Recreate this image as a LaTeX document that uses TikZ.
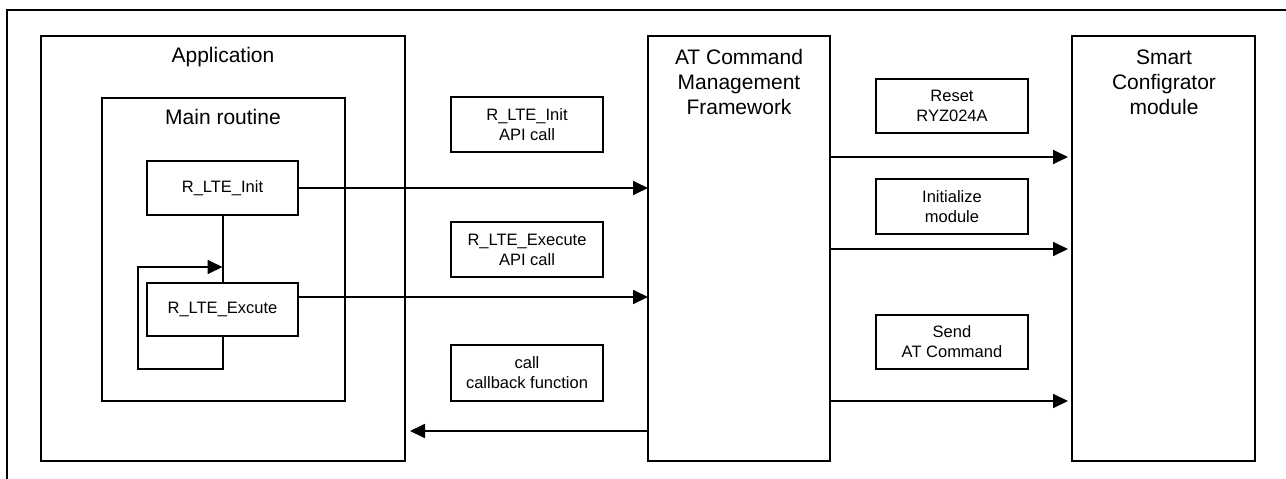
\documentclass[tikz,border=0pt]{standalone}
\usepackage{fontspec}
\setmainfont{Liberation Sans}
\usetikzlibrary{arrows.meta}
\begin{document}
\begin{tikzpicture}[x=1pt,y=-1pt,
  every node/.style={inner sep=0pt, outer sep=0pt},
  box/.style={draw, line width=1.8pt, anchor=north west, minimum width=#1},
  big/.style={font=\fontsize{21}{25}\selectfont, align=center},
  small/.style={font=\fontsize{16.5}{20}\selectfont, align=center},
  arr/.style={line width=1.8pt, -{Triangle[length=15pt,width=14pt]}},
  ln/.style={line width=1.8pt}]
\useasboundingbox (0,0) rectangle (1286,479);
% outer frame (cropped)
\draw[line width=1.8pt] (7,479) -- (7,10) -- (1290,10);
% main blocks
\node[box=364pt, minimum height=425pt] (app) at (41,36) {};
\node[big] (apptxt) at (223,57) {Application};
\node[box=243pt, minimum height=303pt] (main) at (102,98) {};
\node[big] (maintxt) at (223,117) {Main routine};
\node[box=151pt, minimum height=54pt, small] (init) at (147,161) {R\_LTE\_Init};
\node[box=151pt, minimum height=53pt, small] (ex) at (147,283) {R\_LTE\_Excute};
\node[box=182pt, minimum height=425pt] (at) at (648,36) {};
\node[big] (attxt) at (739,82) {AT Command\\Management\\Framework};
\node[box=183pt, minimum height=425pt] (sm) at (1072,36) {};
\node[big] (smtxt) at (1164,82) {Smart\\Configrator\\module};
% label boxes middle
\node[box=152pt, minimum height=55pt, small] (l1) at (451,97) {R\_LTE\_Init\\API call};
\node[box=152pt, minimum height=55pt, small] (l2) at (451,222) {R\_LTE\_Execute\\API call};
\node[box=152pt, minimum height=56pt, small] (l3) at (451,345) {call\\callback function};
% label boxes right
\node[box=152pt, minimum height=54pt, small] (r1) at (876,79) {Reset\\RYZ024A};
\node[box=152pt, minimum height=55pt, small] (r2) at (876,179) {Initialize\\module};
\node[box=152pt, minimum height=54pt, small] (r3) at (876,315) {Send\\AT Command};
% internal connectors
\draw[ln] ([xshift=0.5pt]init.south) -- ([xshift=0.5pt]ex.north);
\draw[arr] ([xshift=0.5pt]ex.south) -- ++(0,33) -| ++(-85,-102) -- ++(84.5,0);
% arrows to AT
\draw[arr] (init.east) -- (init.east -| at.west);
\draw[arr] ([yshift=12.5pt]ex.east) -- ([yshift=12.5pt]ex.east -| at.west);
\draw[arr, shorten >=5pt] ([yshift=-182.5pt]at.west) -- ([yshift=-182.5pt]at.west -| app.east);
% arrows to Smart
\draw[arr, shorten >=4pt] ([yshift=91.5pt]at.east) -- ([yshift=91.5pt]at.east -| sm.west);
\draw[arr, shorten >=4pt] ([yshift=-0.5pt]at.east) -- ([yshift=-0.5pt]at.east -| sm.west);
\draw[arr, shorten >=4pt] ([yshift=-152.5pt]at.east) -- ([yshift=-152.5pt]at.east -| sm.west);
\end{tikzpicture}
\end{document}
